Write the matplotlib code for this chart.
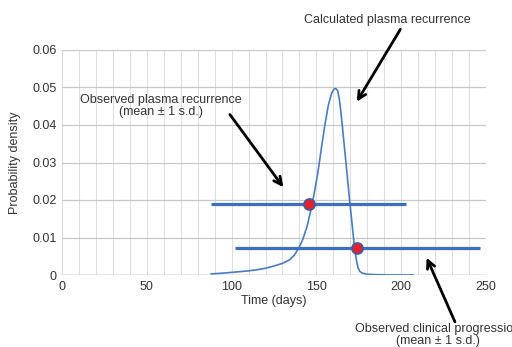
import matplotlib as mpl
mpl.use('Agg')
import matplotlib.pyplot as plt

# calculated plasma recurrence density
days = [88, 95, 100, 105, 110, 115, 120, 125, 130, 134, 137, 139.5, 142, 144.5,
        147, 149, 151, 153, 155, 157, 159, 160.5, 161.5, 162.5, 163.5, 164.5,
        165.5, 166.5, 167.5, 168.5, 169.5, 170.5, 171.5, 172.5, 173.5, 174.5,
        175.5, 177, 180, 185, 195, 207]
density = [0.0003, 0.0005, 0.0007, 0.0009, 0.0011, 0.0014, 0.0018, 0.0024,
           0.0031, 0.0040, 0.0053, 0.0071, 0.0095, 0.0130, 0.0178, 0.0225,
           0.0277, 0.0340, 0.0400, 0.0452, 0.0485, 0.0496, 0.0497, 0.0492,
           0.0470, 0.0432, 0.0388, 0.0342, 0.0297, 0.0250, 0.0203, 0.0160,
           0.0115, 0.0075, 0.0042, 0.0020, 0.0010, 0.0005, 0.0002, 0.0001,
           0.0, 0.0]

# observed means and s.d.
obs_names = ['Observed plasma recurrence', 'Observed clinical progression']
obs_mean = [145.5, 174.2]
obs_sd = [57.5, 72.0]
obs_y = [0.0189, 0.0071]

plt.rcParams['font.family'] = ['Liberation Sans', 'DejaVu Sans']
plt.rcParams['font.size'] = 9

dpi = 100
fig = plt.figure(dpi=dpi, figsize=(512 / dpi, 347 / dpi))
ax = fig.add_axes([62 / 512, 72 / 347, 424 / 512, 225 / 347])

blue = '#4a7cc4'
txt = '#333333'

ax.set_xlim(0, 250)
ax.set_ylim(0, 0.06)
ax.set_xticks(range(0, 251, 50))
ax.set_xticks(range(0, 251, 10), minor=True)
ax.set_yticks([i / 100 for i in range(7)])
ax.set_yticklabels(['0', '0.01', '0.02', '0.03', '0.04', '0.05', '0.06'])
ax.grid(which='major', axis='y', color='#c8c8c8', lw=0.9)
ax.grid(which='both', axis='x', color='#dedede', lw=0.8)
ax.set_axisbelow(True)
for s in ax.spines.values():
    s.set_visible(False)
ax.axhline(0, color='#b8b8b8', lw=1, zorder=1)
ax.tick_params(which='both', length=0, colors=txt, pad=4)

ax.set_xlabel('Time (days)', color=txt, labelpad=2)
ax.set_ylabel('Probability density', color=txt, labelpad=8)

ax.plot(days, density, color=blue, lw=1.2, zorder=3)

for m, sd, y in zip(obs_mean, obs_sd, obs_y):
    ax.plot([m - sd, m + sd], [y, y], color='#3a70bd', lw=2.3, zorder=4,
            solid_capstyle='butt')
    ax.plot(m, y, 'o', ms=8, mfc='#e8202a', mec='#3a5fa8', mew=1.2, zorder=5)

arrow = dict(arrowstyle='->', color='black', lw=2, mutation_scale=14,
             shrinkA=0, shrinkB=0)
ax.annotate('', xy=(173.8, 0.0462), xytext=(199.5, 0.0655),
            arrowprops=arrow, annotation_clip=False)
ax.text(192, 0.0679, 'Calculated plasma recurrence', ha='center', va='center',
        color=txt, clip_on=False)

ax.annotate('', xy=(130.5, 0.0234), xytext=(99, 0.0428),
            arrowprops=arrow, annotation_clip=False)
ax.text(58.5, 0.0452, 'Observed plasma recurrence\n(mean \u00b1 1 s.d.)',
        ha='center', va='center', color=txt, linespacing=1.0)

ax.annotate('', xy=(215, 0.0046), xytext=(231.7, -0.0125),
            arrowprops=arrow, annotation_clip=False)
ax.text(221.5, -0.0160, 'Observed clinical progression\n(mean \u00b1 1 s.d.)',
        ha='center', va='center', color=txt, linespacing=1.0, clip_on=False)

fig.savefig('out.png', dpi=dpi)
